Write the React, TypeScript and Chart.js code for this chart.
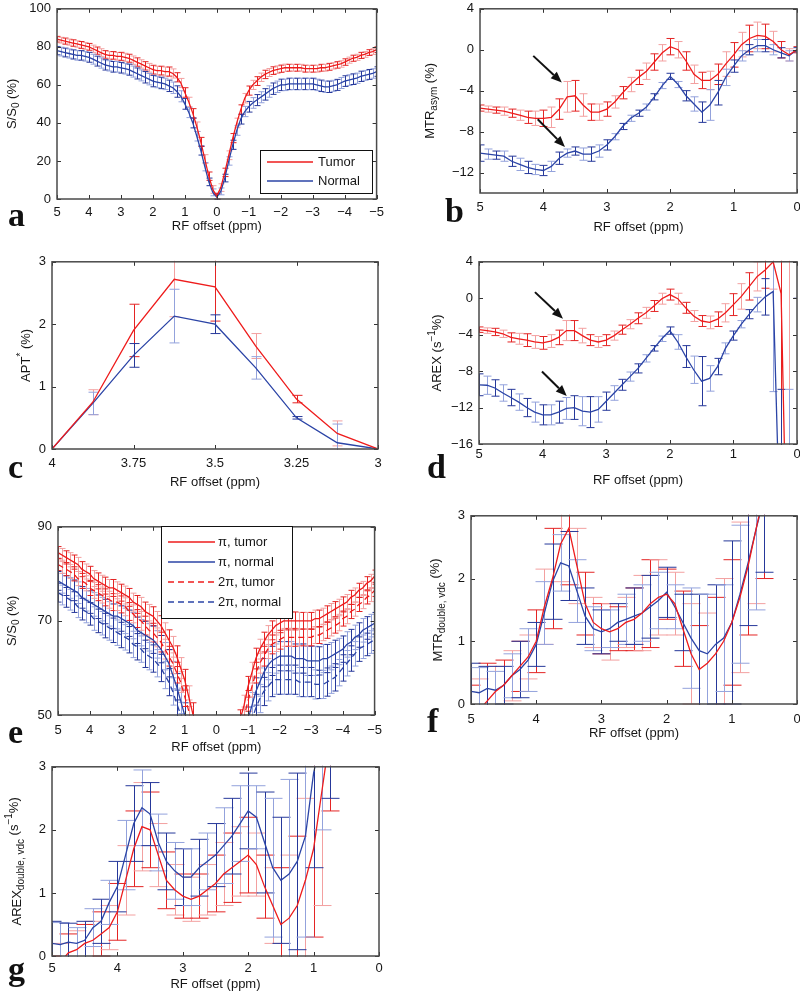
import React, { useEffect, useRef } from 'react';
import { Chart, registerables } from 'chart.js';
Chart.register(...registerables);

// ---------------- data ----------------
const OFFSETS_FULL = [
  5, 4.875, 4.75, 4.625, 4.5, 4.375, 4.25, 4.125,
  4, 3.875, 3.75, 3.625, 3.5, 3.375, 3.25, 3.125,
  3, 2.875, 2.75, 2.625, 2.5, 2.375, 2.25, 2.125,
  2, 1.875, 1.75, 1.625, 1.5, 1.375, 1.25, 1.125,
  1, 0.875, 0.75, 0.625, 0.5, 0.375, 0.25, 0.125,
  0, -0.125, -0.25, -0.375, -0.5, -0.625, -0.75, -0.875,
  -1, -1.125, -1.25, -1.375, -1.5, -1.625, -1.75, -1.875,
  -2, -2.125, -2.25, -2.375, -2.5, -2.625, -2.75, -2.875,
  -3, -3.125, -3.25, -3.375, -3.5, -3.625, -3.75, -3.875,
  -4, -4.125, -4.25, -4.375, -4.5, -4.625, -4.75, -4.875,
  -5,
];
const OFFSETS_HALF = [
  5, 4.875, 4.75, 4.625, 4.5, 4.375, 4.25, 4.125,
  4, 3.875, 3.75, 3.625, 3.5, 3.375, 3.25, 3.125,
  3, 2.875, 2.75, 2.625, 2.5, 2.375, 2.25, 2.125,
  2, 1.875, 1.75, 1.625, 1.5, 1.375, 1.25, 1.125,
  1, 0.875, 0.75, 0.625, 0.5, 0.375, 0.25, 0.125,
  0,
];
const OFFSETS_APT = [4, 3.875, 3.75, 3.625, 3.5, 3.375, 3.25, 3.125, 3];

const TICKS_X_FULL = [5, 4, 3, 2, 1, 0, -1, -2, -3, -4, -5];
const TICKS_X_HALF = [5, 4, 3, 2, 1, 0];
const TICKS_X_APT = [4, 3.75, 3.5, 3.25, 3];
const TICKS_Y_A = [0, 20, 40, 60, 80, 100];
const TICKS_Y_B = [-12, -8, -4, 0, 4];
const TICKS_Y_C = [0, 1, 2, 3];
const TICKS_Y_D = [-16, -12, -8, -4, 0, 4];
const TICKS_Y_E = [50, 70, 90];
const TICKS_Y_FG = [0, 1, 2, 3];

// (a) Z-spectra
const A_TUMOR = [
  84, 83.5, 83, 82.5, 82, 81.5, 81, 80.5,
  80, 79, 78, 77, 76, 75.5, 75.5, 75,
  75, 74.5, 74, 73, 72, 71, 70, 69,
  68, 67.5, 67.5, 67, 67, 66, 64, 61,
  56, 51, 45, 38, 30, 21, 12, 5,
  1.5, 6, 14, 23, 32, 40, 47, 53,
  57, 60, 62, 64, 65.5, 66.5, 67.5, 68,
  68.5, 69, 69, 69, 69, 69, 68.5, 68.5,
  68.5, 68.5, 69, 69, 69.5, 70, 70.5, 71,
  72, 73, 74, 74.5, 75.5, 76, 77, 77.5,
  78.5,
];
const A_TUMOR_ERR = [
  1.5, 1.5, 1.6, 1.6, 1.7, 1.7, 1.8, 1.8,
  1.8, 1.9, 1.9, 2, 2, 2, 2, 2,
  2.1, 2.1, 2.1, 2.2, 2.2, 2.2, 2.2, 2.3,
  2.3, 2.3, 2.3, 2.4, 2.4, 2.4, 2.4, 2.4,
  2.5, 2.5, 2.5, 2.5, 2.4, 2.3, 2.2, 2,
  1.5, 2, 2.2, 2.3, 2.4, 2.5, 2.5, 2.5,
  2.4, 2.4, 2.3, 2.2, 2.2, 2.1, 2, 2,
  1.9, 1.9, 1.8, 1.8, 1.8, 1.8, 1.8, 1.8,
  1.8, 1.8, 1.8, 1.8, 1.8, 1.7, 1.7, 1.7,
  1.7, 1.6, 1.6, 1.6, 1.6, 1.5, 1.5, 1.5,
  1.5,
];
const A_NORMAL = [
  78, 77.5, 77, 76.5, 76, 75.5, 75.5, 75,
  74.5, 73.5, 72.5, 71.5, 70.5, 70, 69.5, 69.5,
  69, 68.5, 68, 67, 66, 65, 64, 63,
  62, 61.5, 61, 60.5, 59.5, 58.5, 56.5, 54,
  50, 45.5, 40, 33, 25.5, 17, 9, 3.5,
  1, 4, 11, 20, 28.5, 36, 42, 46,
  48.5, 50.5, 52, 53.5, 55, 56.5, 58, 59,
  60, 60, 60.5, 60.5, 60.5, 60.5, 60.5, 60.5,
  60.5, 60, 59.5, 59, 59, 59.5, 60, 61,
  62, 62.5, 63, 63.5, 64.5, 65, 65.5, 66,
  67,
];
const A_NORMAL_ERR = [
  2.2, 2.3, 2.3, 2.4, 2.4, 2.5, 2.5, 2.5,
  2.6, 2.6, 2.6, 2.7, 2.7, 2.7, 2.8, 2.8,
  2.8, 2.8, 2.9, 2.9, 2.9, 2.9, 3, 3,
  3, 3, 3, 3, 3, 3, 3, 2.9,
  2.8, 2.7, 2.6, 2.5, 2.4, 2.2, 2, 1.8,
  1.5, 1.8, 2, 2.2, 2.4, 2.5, 2.6, 2.7,
  2.8, 2.8, 2.9, 2.9, 3, 3, 3, 3,
  3, 3, 3, 3, 3, 3, 3, 3,
  3, 3, 3, 3, 3, 2.9, 2.9, 2.9,
  2.8, 2.8, 2.8, 2.7, 2.7, 2.6, 2.6, 2.5,
  2.5,
];

// (b) MTRasym
const B_TUMOR = [
  -5.7, -5.8, -5.9, -6.0, -6.2, -6.4, -6.6, -6.7,
  -6.7, -6.6, -5.8, -4.6, -4.5, -5.4, -6.1, -6.1,
  -5.8, -5.1, -4.2, -3.4, -2.7, -2.1, -1.2, -0.3,
  0.3, 0, -1.1, -2.4, -3.0, -3.0, -2.4, -1.4,
  -0.5, 0.5, 1.1, 1.4, 1.3, 0.8, 0, -0.5,
  0,
];
const B_TUMOR_ERR = [
  0.3, 0.3, 0.3, 0.4, 0.4, 0.5, 0.6, 0.7,
  0.8, 1.0, 1.0, 1.5, 1.5, 1.1, 0.8, 0.8,
  0.7, 0.6, 0.6, 0.7, 0.7, 0.8, 0.8, 0.8,
  0.8, 0.8, 0.9, 0.9, 0.8, 0.9, 1.0, 1.2,
  1.2, 1.2, 1.3, 1.3, 1.2, 1.0, 0.8, 0.6,
  0.3,
];
const B_NORMAL = [
  -10.1, -10.2, -10.3, -10.4, -10.9, -11.2, -11.5, -11.7,
  -11.8, -11.4, -10.6, -10.1, -9.9, -10.2, -10.2, -9.9,
  -9.3, -8.5, -7.5, -6.7, -6.2, -5.6, -4.6, -3.5,
  -2.6, -3.4, -4.5, -5.3, -6.1, -5.4, -4.2, -2.7,
  -1.6, -0.6, 0, 0.4, 0.4, 0, -0.3, -0.6,
  0,
];
const B_NORMAL_ERR = [
  0.8, 0.5, 0.4, 0.5, 0.5, 0.6, 0.6, 0.5,
  0.5, 0.5, 0.6, 0.4, 0.4, 0.6, 0.7, 0.6,
  0.5, 0.3, 0.3, 0.3, 0.3, 0.3, 0.3, 0.3,
  0.3, 0.3, 0.5, 0.7, 1.0, 1.5, 1.2, 0.8,
  0.6, 0.5, 0.5, 0.6, 0.6, 0.5, 0.5, 0.5,
  0.2,
];

// (c) APT*
const C_TUMOR = [0, 0.75, 1.9, 2.72, 2.6, 1.65, 0.8, 0.25, 0];
const C_TUMOR_ERR = [0, 0.2, 0.42, 0.6, 0.55, 0.2, 0.06, 0.2, 0];
const C_NORMAL = [0, 0.73, 1.5, 2.13, 2.0, 1.3, 0.5, 0.1, 0];
const C_NORMAL_ERR = [0, 0.18, 0.19, 0.43, 0.15, 0.18, 0.02, 0.3, 0];

// (d) AREX
const D_TUMOR = [
  -3.45, -3.55, -3.7, -3.9, -4.3, -4.45, -4.6, -4.8,
  -4.9, -4.7, -4.3, -3.55, -3.55, -4.1, -4.6, -4.8,
  -4.6, -4.1, -3.45, -2.85, -2.2, -1.6, -0.85, -0.05,
  0.4, -0.05, -1.05, -1.95, -2.5, -2.65, -2.3, -1.6,
  -0.7, 0.2, 1.3, 2.4, 3.1, 4.0, 0.5, -40,
  -20,
];
const D_TUMOR_ERR = [
  0.3, 0.3, 0.4, 0.4, 0.5, 0.6, 0.7, 0.7,
  0.7, 0.7, 0.8, 1.1, 1.1, 0.8, 0.6, 0.6,
  0.6, 0.5, 0.5, 0.5, 0.6, 0.6, 0.6, 0.6,
  0.6, 0.6, 0.6, 0.6, 0.6, 0.7, 0.8, 1.0,
  1.2, 1.4, 1.5, 1.6, 2.0, 3.0, 60, 60,
  60,
];
const D_NORMAL = [
  -9.5, -9.55, -9.85, -10.4, -10.9, -11.4, -12.0, -12.5,
  -12.8, -12.8, -12.5, -12.1, -12.0, -12.4, -12.5, -12.2,
  -11.3, -10.4, -9.5, -8.6, -7.7, -6.6, -5.5, -4.45,
  -3.55, -4.8, -6.4, -7.85, -9.1, -8.8, -7.5, -5.5,
  -4.1, -2.85, -1.75, -0.7, 0.15, 0.75, -30, -40,
  -20,
];
const D_NORMAL_ERR = [
  1.2, 1.0, 0.9, 0.9, 0.9, 0.9, 1.0, 1.1,
  1.1, 1.1, 1.2, 1.2, 1.3, 1.6, 1.7, 1.4,
  1.0, 0.8, 0.6, 0.5, 0.5, 0.4, 0.3, 0.3,
  0.4, 0.8, 1.2, 1.5, 2.7, 1.4, 0.9, 0.6,
  0.5, 0.4, 0.5, 0.8, 2.0, 11, 20, 30,
  20,
];

// (e) Z-spectra, pi and 2pi pulses
const E_TUMOR_PI = [
  84.5, 84, 83.5, 83, 82.5, 82, 81, 80.5,
  80, 79, 78.5, 78, 77.5, 77, 77, 76.5,
  76, 75.5, 75, 74, 73.5, 73, 72, 71.5,
  71, 70, 69, 67.5, 66, 64.5, 62.5, 60,
  57.5, 54, 50.5, 46, 40, 32, 22, 10,
  2, 10, 22, 33, 40, 45, 49, 52,
  56, 59, 62, 64, 65.5, 67, 68, 69,
  69.5, 70, 70, 70, 70, 70, 70, 70,
  70, 70.5, 70.5, 71, 71.5, 72, 72.5, 73,
  73.5, 74, 75, 75.5, 76.5, 77, 78, 78.5,
  79.5,
];
const E_TUMOR_2PI = [
  82, 81.5, 81, 80.5, 80, 79, 78.5, 78,
  77, 76.5, 76, 75.5, 75, 74.5, 74, 74,
  73.5, 73, 72, 71.5, 70.5, 70, 69, 68,
  67.5, 66.5, 65.5, 64, 62.5, 61, 59, 57,
  54, 51, 47.5, 43, 37, 29, 19, 8,
  1, 8, 19, 30, 37, 42, 46, 49.5,
  53, 56, 59, 61, 62.5, 64, 65, 65.5,
  66, 66.5, 66.5, 66.5, 66.5, 66.5, 66.5, 66.5,
  66.5, 67, 67, 67.5, 68, 68.5, 69, 69.5,
  70.5, 71, 72, 72.5, 73.5, 74, 75, 75.5,
  76.5,
];
const E_NORMAL_PI = [
  78.5, 78, 77.5, 77, 76.5, 76, 75, 74.5,
  74, 73.5, 73, 72.5, 72, 71.5, 71, 71,
  70.5, 70, 69.5, 69, 68, 67.5, 67, 66.5,
  66, 65, 64, 62.5, 61, 58.5, 56, 53,
  50, 46, 41, 35, 28, 20, 12, 5,
  1, 5, 12, 20, 28, 35, 41, 45,
  49, 52, 55, 57, 59, 60.5, 61.5, 62,
  62.5, 62.5, 62.5, 62.5, 62, 62, 62, 61.5,
  61.5, 61.5, 61.5, 62, 62, 62.5, 63, 63.5,
  64, 65, 65.5, 66.5, 67, 68, 68.5, 69,
  69.5,
];
const E_NORMAL_2PI = [
  76, 75.5, 75, 74.5, 74, 73, 72.5, 72,
  71.5, 70.5, 70, 69.5, 69, 68.5, 68, 67.5,
  67, 66.5, 66, 65, 64.5, 64, 63, 62.5,
  62, 61, 60, 58.5, 57, 55, 52.5, 50,
  47, 43, 38, 32, 25, 17, 10, 4,
  1, 4, 10, 17, 25, 32, 38, 42,
  46, 49, 51.5, 53.5, 55, 56, 57, 57.5,
  57.5, 57.5, 57.5, 57.5, 57.5, 57, 57, 57,
  57, 56.5, 56.5, 56.5, 57, 57.5, 58, 59,
  60, 61, 62, 63, 64, 64.5, 65, 65.5,
  66,
];
const E_TUMOR_ERR = [
  1.3, 1.4, 1.4, 1.5, 1.5, 1.5, 1.6, 1.6,
  1.6, 1.7, 1.7, 1.7, 1.8, 1.8, 1.8, 1.8,
  1.8, 1.9, 1.9, 1.9, 1.9, 2, 2, 2,
  2, 2, 2.1, 2.1, 2.1, 2.2, 2.2, 2.2,
  2.2, 2.2, 2.1, 2, 1.9, 1.7, 1.5, 1.2,
  1, 1.2, 1.5, 1.7, 1.9, 2, 2.1, 2.2,
  2.2, 2.2, 2.2, 2.1, 2.1, 2, 2, 2,
  2, 1.9, 1.9, 1.9, 1.9, 1.8, 1.8, 1.8,
  1.8, 1.8, 1.8, 1.7, 1.7, 1.7, 1.6, 1.6,
  1.6, 1.6, 1.5, 1.5, 1.5, 1.4, 1.4, 1.4,
  1.3,
];
const E_NORMAL_ERR = [
  2, 2.1, 2.1, 2.2, 2.2, 2.3, 2.3, 2.4,
  2.4, 2.5, 2.5, 2.5, 2.6, 2.6, 2.6, 2.7,
  2.7, 2.7, 2.8, 2.8, 2.8, 2.8, 2.9, 2.9,
  2.9, 2.9, 2.9, 2.9, 2.9, 2.9, 2.8, 2.7,
  2.6, 2.5, 2.4, 2.2, 2, 1.8, 1.5, 1.2,
  1, 1.2, 1.5, 1.8, 2, 2.2, 2.4, 2.6,
  2.7, 2.8, 2.9, 3, 3, 3, 3.1, 3.1,
  3.1, 3.1, 3.1, 3.1, 3.1, 3.1, 3.1, 3.1,
  3.1, 3.1, 3, 3, 3, 2.9, 2.9, 2.8,
  2.8, 2.7, 2.7, 2.6, 2.6, 2.5, 2.4, 2.4,
  2.3,
];

// (f) MTRdouble,vdc
const F_TUMOR = [
  -0.3, -0.1, 0.05, 0.2, 0.3, 0.45, 0.6, 0.75,
  1.0, 1.55, 2.0, 2.55, 2.8, 2.2, 1.6, 1.3,
  1.2, 1.15, 1.2, 1.3, 1.35, 1.45, 1.6, 1.7,
  1.75, 1.6, 1.2, 0.8, 0.55, 0.65, 0.8, 1.0,
  1.3, 1.7, 2.2, 2.8, 3.4,
];
const F_TUMOR_ERR = [
  0.6, 0.5, 0.6, 0.4, 0.4, 0.4, 0.4, 0.35,
  0.5, 0.6, 0.8, 0.6, 0.9, 0.6, 0.5, 0.4,
  0.4, 0.45, 0.35, 0.4, 0.5, 0.6, 0.7, 0.6,
  0.4, 0.5, 0.6, 0.8, 0.7, 0.8, 0.9, 1.0,
  1.0, 1.2, 1.1, 1.2, 1.4,
];
const F_NORMAL = [
  0.2, 0.18, 0.25, 0.22, 0.3, 0.45, 0.55, 0.7,
  0.95, 1.45, 1.95, 2.25, 2.2, 1.8, 1.4, 1.2,
  1.15, 1.2, 1.3, 1.35, 1.4, 1.45, 1.55, 1.65,
  1.78, 1.55, 1.3, 1.05, 0.85, 0.8, 0.95, 1.05,
  1.3, 1.75, 2.25, 2.8, 3.3,
];
const F_NORMAL_ERR = [
  0.45, 0.4, 0.35, 0.3, 0.3, 0.35, 0.45, 0.5,
  0.35, 0.5, 0.6, 0.45, 0.55, 0.5, 0.45, 0.35,
  0.35, 0.3, 0.3, 0.4, 0.45, 0.45, 0.5, 0.45,
  0.4, 0.35, 0.45, 0.8, 0.9, 0.95, 0.95, 0.85,
  1.3, 1.1, 1.0, 1.3, 1.2,
];

// (g) AREXdouble,vdc
const G_TUMOR = [
  -0.3, -0.1, 0.05, 0.1, 0.2, 0.25, 0.35, 0.45,
  0.7, 1.2, 1.7, 2.05, 2.0, 1.6, 1.2, 1.05,
  0.95, 0.9, 0.95, 1.05, 1.15, 1.3, 1.4, 1.5,
  1.6, 1.45, 1.1, 0.8, 0.5, 0.6, 0.8, 1.2,
  1.7, 2.6, 3.5,
];
const G_TUMOR_ERR = [
  0.3, 0.3, 0.3, 0.3, 0.3, 0.3, 0.35, 0.35,
  0.45, 0.55, 0.6, 0.7, 0.6, 0.5, 0.45, 0.4,
  0.35, 0.35, 0.35, 0.4, 0.45, 0.5, 0.55, 0.55,
  0.6, 0.5, 0.5, 0.6, 0.9, 1.0, 1.1, 1.3,
  1.4, 1.8, 1.2,
];
const G_NORMAL = [
  0.2, 0.18, 0.22, 0.2, 0.25, 0.45, 0.55, 0.85,
  1.1, 1.6, 2.1, 2.35, 2.25, 1.8, 1.5, 1.35,
  1.25, 1.25, 1.4, 1.5, 1.6, 1.75, 1.9, 2.1,
  2.3, 2.2, 1.8, 1.4, 1.2, 1.3, 1.5, 1.9,
  2.9, 3.5, 4.0,
];
const G_NORMAL_ERR = [
  0.35, 0.35, 0.3, 0.25, 0.3, 0.3, 0.35, 0.35,
  0.4, 0.55, 0.6, 0.6, 0.5, 0.45, 0.45, 0.45,
  0.45, 0.45, 0.45, 0.45, 0.5, 0.6, 0.6, 0.6,
  0.6, 0.5, 0.8, 1.1, 1.0, 1.5, 1.4, 1.6,
  1.5, 1.5, 1.5,
];

// ---------------- styles ----------------
const RED = '#ee1c1c';
const RED_BAR = '#e42424';
const RED_LIGHT = '#f3a0a0';
const BLUE = '#2b44a6';
const BLUE_BAR = '#26389a';
const BLUE_LIGHT = '#93a2dc';
const TEXT = '#161616';
const FONT = '"Liberation Sans", Arial, Helvetica, sans-serif';
const FS = 13;

const PADL = 62;
const PADT = 10;
const PADR = 12;
const PADB = 46;

type Seg = { t: string; dy?: number; small?: boolean };
type Series = {
  xs: number[]; ys: number[]; errs?: number[];
  color: string; dark: string; light: string; dash?: number[];
};
type LegendItem = { label: string; color: string; dash?: number[] };
type Legend = { x1: number; y1: number; x2: number; y2: number; lineX1: number; lineX2: number; textX: number; rows: number[]; items: LegendItem[] };
type Spec = {
  id: string;
  plot: { l: number; t: number; r: number; b: number };
  xMin: number; xMax: number; xTicks: number[]; reverse: boolean;
  yMin: number; yMax: number; yTicks: number[];
  series: Series[];
  cap: number;
  yTitle: Seg[]; yTitleOff: number;
  xTitleOff: number; xTickPad: number;
  legend?: Legend;
  arrows?: number[][];
};

const tumor = (xs: number[], ys: number[], errs?: number[], dash?: number[]): Series =>
  ({ xs, ys, errs, color: RED, dark: RED_BAR, light: RED_LIGHT, dash });
const normal = (xs: number[], ys: number[], errs?: number[], dash?: number[]): Series =>
  ({ xs, ys, errs, color: BLUE, dark: BLUE_BAR, light: BLUE_LIGHT, dash });

const SPECS: Spec[] = [
  {
    id: 'a', plot: { l: 57, t: 5, r: 378, b: 199 },
    xMin: -5, xMax: 5, xTicks: TICKS_X_FULL, reverse: true,
    yMin: 0, yMax: 100, yTicks: TICKS_Y_A,
    series: [tumor(OFFSETS_FULL, A_TUMOR, A_TUMOR_ERR), normal(OFFSETS_FULL, A_NORMAL, A_NORMAL_ERR)],
    cap: 3,
    yTitle: [{ t: 'S/S' }, { t: '0', dy: 4, small: true }, { t: ' (%)' }], yTitleOff: 45,
    xTitleOff: 27, xTickPad: 6,
    legend: { x1: 260, y1: 150, x2: 372, y2: 193, lineX1: 267, lineX2: 313, textX: 318, rows: [162, 181],
      items: [{ label: 'Tumor', color: RED }, { label: 'Normal', color: BLUE }] },
  },
  {
    id: 'b', plot: { l: 480, t: 5, r: 797, b: 193 },
    xMin: 0, xMax: 5, xTicks: TICKS_X_HALF, reverse: true,
    yMin: -14, yMax: 4, yTicks: TICKS_Y_B,
    series: [tumor(OFFSETS_HALF, B_TUMOR, B_TUMOR_ERR), normal(OFFSETS_HALF, B_NORMAL, B_NORMAL_ERR)],
    cap: 4,
    yTitle: [{ t: 'MTR' }, { t: 'asym', dy: 4, small: true }, { t: ' (%)' }], yTitleOff: 50,
    xTitleOff: 34, xTickPad: 7,
    arrows: [[4.16, -0.6, 3.71, -3.2], [4.09, -6.8, 3.66, -9.5]],
  },
  {
    id: 'c', plot: { l: 52, t: 258, r: 378, b: 449 },
    xMin: 3, xMax: 4, xTicks: TICKS_X_APT, reverse: true,
    yMin: 0, yMax: 3, yTicks: TICKS_Y_C,
    series: [tumor(OFFSETS_APT, C_TUMOR, C_TUMOR_ERR), normal(OFFSETS_APT, C_NORMAL, C_NORMAL_ERR)],
    cap: 5,
    yTitle: [{ t: 'APT' }, { t: '*', dy: -5, small: true }, { t: ' (%)' }], yTitleOff: 26,
    xTitleOff: 33, xTickPad: 7,
  },
  {
    id: 'd', plot: { l: 479, t: 258, r: 797, b: 444 },
    xMin: 0, xMax: 5, xTicks: TICKS_X_HALF, reverse: true,
    yMin: -16, yMax: 4, yTicks: TICKS_Y_D,
    series: [tumor(OFFSETS_HALF, D_TUMOR, D_TUMOR_ERR), normal(OFFSETS_HALF, D_NORMAL, D_NORMAL_ERR)],
    cap: 4,
    yTitle: [{ t: 'AREX (s' }, { t: '−1', dy: -5, small: true }, { t: '%)' }], yTitleOff: 42,
    xTitleOff: 36, xTickPad: 3,
    arrows: [[4.12, 0.67, 3.68, -2.24], [4.01, -8.04, 3.62, -10.73]],
  },
  {
    id: 'e', plot: { l: 58, t: 523, r: 378, b: 715 },
    xMin: -5, xMax: 5, xTicks: TICKS_X_FULL, reverse: true,
    yMin: 50, yMax: 90, yTicks: TICKS_Y_E,
    series: [
      tumor(OFFSETS_FULL, E_TUMOR_PI, E_TUMOR_ERR),
      normal(OFFSETS_FULL, E_NORMAL_PI, E_NORMAL_ERR),
      tumor(OFFSETS_FULL, E_TUMOR_2PI, E_TUMOR_ERR, [6, 4]),
      normal(OFFSETS_FULL, E_NORMAL_2PI, E_NORMAL_ERR, [6, 4]),
    ],
    cap: 3,
    yTitle: [{ t: 'S/S' }, { t: '0', dy: 4, small: true }, { t: ' (%)' }], yTitleOff: 46,
    xTitleOff: 32, xTickPad: 8,
    legend: { x1: 161, y1: 526, x2: 292, y2: 618, lineX1: 168, lineX2: 215, textX: 218, rows: [542, 562, 582, 602],
      items: [
        { label: 'π, tumor', color: RED },
        { label: 'π, normal', color: BLUE },
        { label: '2π, tumor', color: RED, dash: [6, 4] },
        { label: '2π, normal', color: BLUE, dash: [6, 4] },
      ] },
  },
  {
    id: 'f', plot: { l: 471, t: 512, r: 797, b: 704 },
    xMin: 0, xMax: 5, xTicks: TICKS_X_HALF, reverse: true,
    yMin: 0, yMax: 3, yTicks: TICKS_Y_FG,
    series: [tumor(OFFSETS_HALF, F_TUMOR, F_TUMOR_ERR), normal(OFFSETS_HALF, F_NORMAL, F_NORMAL_ERR)],
    cap: 9,
    yTitle: [{ t: 'MTR' }, { t: 'double, vdc', dy: 4, small: true }, { t: ' (%)', dy: -3 }], yTitleOff: 33,
    xTitleOff: 29, xTickPad: 8,
  },
  {
    id: 'g', plot: { l: 52, t: 763, r: 379, b: 956 },
    xMin: 0, xMax: 5, xTicks: TICKS_X_HALF, reverse: true,
    yMin: 0, yMax: 3, yTicks: TICKS_Y_FG,
    series: [tumor(OFFSETS_HALF, G_TUMOR, G_TUMOR_ERR), normal(OFFSETS_HALF, G_NORMAL, G_NORMAL_ERR)],
    cap: 9,
    yTitle: [{ t: 'AREX' }, { t: 'double, vdc', dy: 4, small: true }, { t: ' (s', dy: -3 }, { t: '−1', dy: -8, small: true }, { t: '%)', dy: -3 }],
    yTitleOff: 35,
    xTitleOff: 28, xTickPad: 5,
  },
];

const LETTERS = [
  { t: 'a', x: 8, base: 226 },
  { t: 'b', x: 445, base: 222 },
  { t: 'c', x: 8, base: 478 },
  { t: 'd', x: 427, base: 478 },
  { t: 'e', x: 8, base: 743 },
  { t: 'f', x: 427, base: 732 },
  { t: 'g', x: 8, base: 980 },
];

const fmt = (v: number) => (v < 0 ? '−' + String(-v) : String(v));

function drawRich(ctx: CanvasRenderingContext2D, segs: Seg[], cx: number, cy: number, rotate: boolean) {
  ctx.save();
  ctx.translate(cx, cy);
  if (rotate) ctx.rotate(-Math.PI / 2);
  ctx.fillStyle = TEXT;
  ctx.textBaseline = 'middle';
  ctx.textAlign = 'left';
  const widths = segs.map((s) => {
    ctx.font = `${s.small ? 10 : FS}px ${FONT}`;
    return ctx.measureText(s.t).width;
  });
  let x = -widths.reduce((a, b) => a + b, 0) / 2;
  segs.forEach((s, i) => {
    ctx.font = `${s.small ? 10 : FS}px ${FONT}`;
    ctx.fillText(s.t, x, s.dy || 0);
    x += widths[i];
  });
  ctx.restore();
}

function makePlugin(spec: Spec) {
  const ox = spec.plot.l - PADL;
  const oy = spec.plot.t - PADT;
  return {
    id: 'deco_' + spec.id,
    beforeDatasetsDraw(chart: any) {
      const { ctx, chartArea: ca, scales } = chart;
      const xs = scales.x, ys = scales.y;
      ctx.save();
      ctx.beginPath();
      ctx.rect(ca.left, ca.top - 1, ca.right - ca.left, ca.bottom - ca.top + 2);
      ctx.clip();
      ctx.lineWidth = 1;
      spec.series.forEach((s) => {
        if (!s.errs) return;
        s.ys.forEach((y, i) => {
          const e = s.errs![i];
          if (!e) return;
          const px = Math.round(xs.getPixelForValue(s.xs[i])) + 0.5;
          const p1 = ys.getPixelForValue(y + e);
          const p2 = ys.getPixelForValue(y - e);
          ctx.strokeStyle = i % 2 === 0 ? s.dark : s.light;
          ctx.beginPath();
          ctx.moveTo(px, p1); ctx.lineTo(px, p2);
          ctx.moveTo(px - spec.cap, p1); ctx.lineTo(px + spec.cap, p1);
          ctx.moveTo(px - spec.cap, p2); ctx.lineTo(px + spec.cap, p2);
          ctx.stroke();
        });
      });
      ctx.restore();
    },
    afterDatasetsDraw(chart: any) {
      const { ctx, scales } = chart;
      (spec.arrows || []).forEach(([x1, y1, x2, y2]) => {
        const ax = scales.x.getPixelForValue(x1), ay = scales.y.getPixelForValue(y1);
        const bx = scales.x.getPixelForValue(x2), by = scales.y.getPixelForValue(y2);
        const ang = Math.atan2(by - ay, bx - ax);
        const L = 11, W = 4.5;
        const hx = bx - L * Math.cos(ang), hy = by - L * Math.sin(ang);
        ctx.save();
        ctx.strokeStyle = '#111';
        ctx.fillStyle = '#111';
        ctx.lineWidth = 2;
        ctx.beginPath(); ctx.moveTo(ax, ay); ctx.lineTo(hx, hy); ctx.stroke();
        ctx.beginPath();
        ctx.moveTo(bx, by);
        ctx.lineTo(hx + W * Math.sin(ang), hy - W * Math.cos(ang));
        ctx.lineTo(hx - W * Math.sin(ang), hy + W * Math.cos(ang));
        ctx.closePath(); ctx.fill();
        ctx.restore();
      });
    },
    afterDraw(chart: any) {
      const { ctx, chartArea: ca, scales } = chart;
      ctx.save();
      // inner ticks
      ctx.strokeStyle = '#333';
      ctx.lineWidth = 1;
      const TL = 4;
      spec.xTicks.forEach((v) => {
        const px = Math.round(scales.x.getPixelForValue(v)) + 0.5;
        ctx.beginPath();
        ctx.moveTo(px, ca.bottom); ctx.lineTo(px, ca.bottom - TL);
        ctx.moveTo(px, ca.top); ctx.lineTo(px, ca.top + TL);
        ctx.stroke();
      });
      spec.yTicks.forEach((v) => {
        const py = Math.round(scales.y.getPixelForValue(v)) + 0.5;
        ctx.beginPath();
        ctx.moveTo(ca.left, py); ctx.lineTo(ca.left + TL, py);
        ctx.moveTo(ca.right, py); ctx.lineTo(ca.right - TL, py);
        ctx.stroke();
      });
      // frame
      ctx.strokeStyle = '#4a4a4a';
      ctx.lineWidth = 1.5;
      ctx.strokeRect(ca.left, ca.top, ca.right - ca.left, ca.bottom - ca.top);
      ctx.restore();

      // titles
      drawRich(ctx, [{ t: 'RF offset (ppm)' }], (ca.left + ca.right) / 2, ca.bottom + spec.xTitleOff, false);
      drawRich(ctx, spec.yTitle, ca.left - spec.yTitleOff, (ca.top + ca.bottom) / 2, true);

      // legend
      const lg = spec.legend;
      if (lg) {
        ctx.save();
        ctx.fillStyle = '#fff';
        ctx.strokeStyle = '#111';
        ctx.lineWidth = 1;
        ctx.fillRect(lg.x1 - ox, lg.y1 - oy, lg.x2 - lg.x1, lg.y2 - lg.y1);
        ctx.strokeRect(lg.x1 - ox + 0.5, lg.y1 - oy + 0.5, lg.x2 - lg.x1, lg.y2 - lg.y1);
        lg.items.forEach((it, i) => {
          const y = lg.rows[i] - oy;
          ctx.strokeStyle = it.color;
          ctx.lineWidth = 1.3;
          ctx.setLineDash(it.dash || []);
          ctx.beginPath();
          ctx.moveTo(lg.lineX1 - ox, y); ctx.lineTo(lg.lineX2 - ox, y);
          ctx.stroke();
          ctx.setLineDash([]);
          ctx.fillStyle = TEXT;
          ctx.font = `${FS}px ${FONT}`;
          ctx.textBaseline = 'middle';
          ctx.textAlign = 'left';
          ctx.fillText(it.label, lg.textX - ox, y);
        });
        ctx.restore();
      }
    },
  };
}

function Panel({ spec }: { spec: Spec }) {
  const ref = useRef<HTMLCanvasElement>(null);
  const w = spec.plot.r - spec.plot.l + PADL + PADR;
  const h = spec.plot.b - spec.plot.t + PADT + PADB;
  useEffect(() => {
    const chart = new Chart(ref.current as HTMLCanvasElement, {
      type: 'line',
      data: {
        datasets: spec.series.map((s) => ({
          data: s.ys.map((y, i) => ({ x: s.xs[i], y })),
          borderColor: s.color,
          borderWidth: 1.3,
          borderDash: s.dash || [],
          pointRadius: 0,
          tension: 0,
          fill: false,
        })),
      },
      options: {
        responsive: false,
        maintainAspectRatio: false,
        animation: false,
        events: [],
        layout: { padding: { left: 0, top: PADT, right: PADR, bottom: 0 } },
        plugins: { legend: { display: false }, tooltip: { enabled: false } },
        scales: {
          x: {
            type: 'linear', reverse: spec.reverse, min: spec.xMin, max: spec.xMax,
            grid: { display: false, drawTicks: false }, border: { display: false },
            ticks: {
              padding: spec.xTickPad, color: TEXT, font: { family: FONT, size: FS },
              autoSkip: false, maxRotation: 0, callback: (v: any) => fmt(Number(v)),
            },
            afterBuildTicks: (s: any) => { s.ticks = spec.xTicks.map((v) => ({ value: v })); },
            afterFit: (s: any) => { s.height = PADB; },
          },
          y: {
            type: 'linear', min: spec.yMin, max: spec.yMax,
            grid: { display: false, drawTicks: false }, border: { display: false },
            ticks: {
              padding: 6, color: TEXT, font: { family: FONT, size: FS },
              autoSkip: false, callback: (v: any) => fmt(Number(v)),
            },
            afterBuildTicks: (s: any) => { s.ticks = spec.yTicks.map((v) => ({ value: v })); },
            afterFit: (s: any) => { s.width = PADL; },
          },
        },
      } as any,
      plugins: [makePlugin(spec)],
    });
    return () => chart.destroy();
  }, []);
  return (
    <canvas
      ref={ref}
      width={w}
      height={h}
      style={{ position: 'absolute', left: spec.plot.l - PADL, top: spec.plot.t - PADT, width: w, height: h }}
    />
  );
}

export default function App() {
  return (
    <div style={{ position: 'absolute', left: 0, top: 0, width: 800, height: 996, overflow: 'hidden', background: '#fff' }}>
      {SPECS.map((s) => <Panel key={s.id} spec={s} />)}
      {LETTERS.map((l) => (
        <div
          key={l.t}
          style={{
            position: 'absolute', left: l.x, top: l.base - 28.5,
            font: 'bold 34px "Liberation Serif", "Times New Roman", serif', lineHeight: '34px', color: '#111',
          }}
        >
          {l.t}
        </div>
      ))}
    </div>
  );
}
